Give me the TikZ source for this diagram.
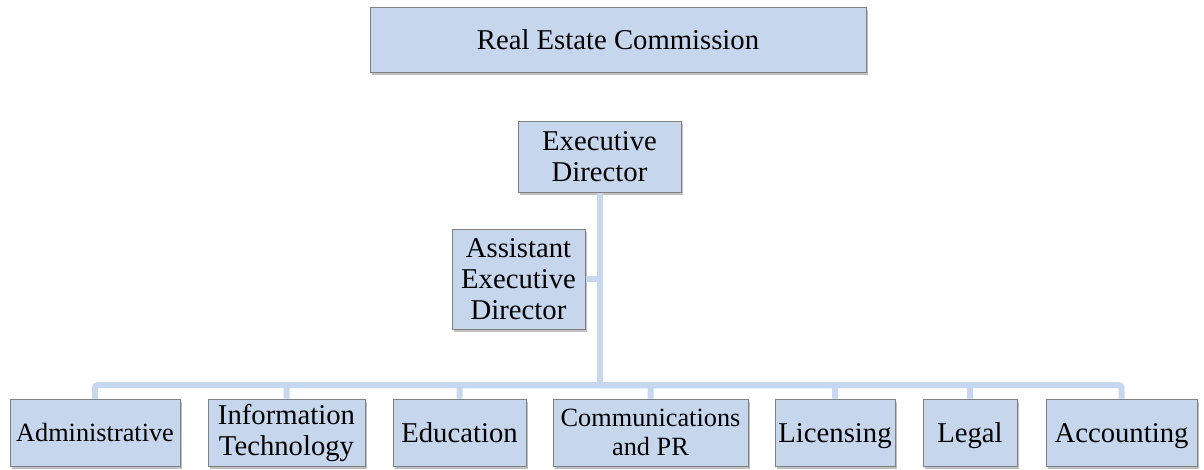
\documentclass[tikz,border=0pt]{standalone}
\usepackage{fontspec}
\setmainfont{Liberation Serif}
\usetikzlibrary{shadows}
\definecolor{boxfill}{RGB}{198,215,237}
\definecolor{boxline}{RGB}{128,128,128}
\definecolor{linkcol}{RGB}{198,216,240}
\tikzset{
  orgbox/.style={draw=boxline, line width=1pt, fill=boxfill, inner sep=0pt, align=center,
    font=\fontsize{28.7}{31}\selectfont,
    drop shadow={shadow xshift=2pt, shadow yshift=-2.5pt, opacity=0.45, fill=black!55}},
  small/.style={font=\fontsize{26.3}{29}\selectfont},
  oneline/.style={text height=19pt, text depth=0pt},
  link/.style={draw=linkcol, line width=6pt, rounded corners=3pt}
}
\begin{document}
\begin{tikzpicture}[x=1pt,y=-1pt]
\useasboundingbox (0,0) rectangle (1204,469);
\node[orgbox, oneline, minimum width=496pt, minimum height=65pt] (rec) at (618,39.5) {Real Estate Commission};
\node[orgbox, minimum width=163pt, minimum height=71pt] (ed) at (599.5,156.5) {Executive\\Director};
\node[orgbox, minimum width=133pt, minimum height=100pt] (aed) at (518.5,279) {Assistant\\Executive\\Director};
\coordinate (bus) at (600,385);
\node[orgbox, small, oneline, text height=18pt, minimum width=170pt, minimum height=67pt] (adm) at (95,432.5) {Administrative};
\node[orgbox, minimum width=157pt, minimum height=67pt] (it) at (286.5,432.5) {Information\\Technology};
\node[orgbox, oneline, minimum width=133pt, minimum height=67pt] (edu) at (459.5,432.5) {Education};
\node[orgbox, small, minimum width=195pt, minimum height=67pt] (com) at (650.5,432.5) {Communications\\and PR};
\node[orgbox, oneline, minimum width=120pt, minimum height=67pt] (lic) at (835,432.5) {Licensing};
\node[orgbox, oneline, minimum width=94pt, minimum height=67pt] (leg) at (970,432.5) {Legal};
\node[orgbox, oneline, minimum width=151pt, minimum height=67pt] (acc) at (1121.5,432.5) {Accounting};
\draw[link] (ed.south) -- (ed.south |- bus);
\draw[link] (aed.east) -- (aed.east -| ed.south);
\foreach \c in {adm,it,edu,com,lic,leg,acc}
  \draw[link] (ed.south |- bus) -| (\c.north);
\end{tikzpicture}
\end{document}
